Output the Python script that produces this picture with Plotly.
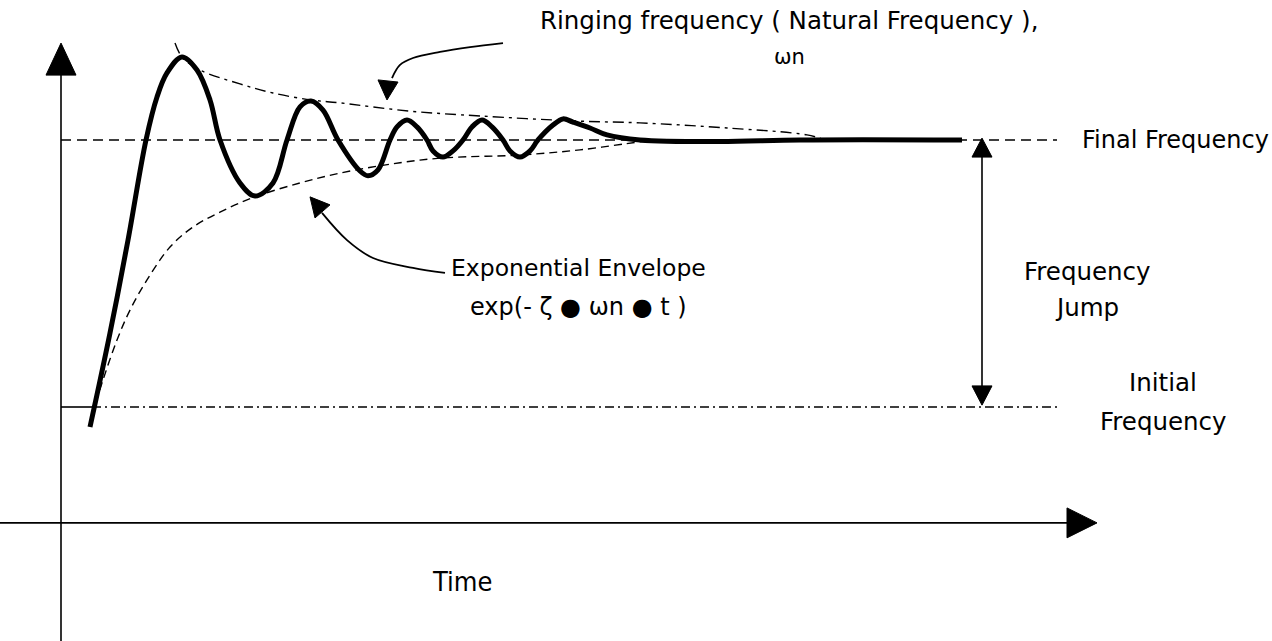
import plotly.graph_objects as go

# ---- Diagram data (time in arbitrary units, frequency normalised: initial=0, final=1) ----
resp_t = [0.29, 0.49, 0.67, 0.85, 0.96, 1.06, 1.21, 1.36, 1.49, 1.59, 1.79, 1.94, 2.12, 2.26,
          2.39, 2.50, 2.62, 2.77, 2.99, 3.07, 3.17, 3.29, 3.36, 3.46, 3.56, 3.66, 3.72, 3.82, 3.92,
          4.02, 4.11, 4.21, 4.31, 4.42, 4.49, 4.59, 4.69, 4.77, 4.92, 5.02, 5.12, 5.29, 5.46,
          5.79, 6.59, 7.39, 9.01]
resp_f = [-0.075, 0.277, 0.625, 1.0, 1.161, 1.251, 1.311, 1.262, 1.150, 1.0, 0.839, 0.790, 0.839, 1.0,
          1.124, 1.146, 1.112, 1.0, 0.884, 0.866, 0.888, 1.0, 1.049, 1.075, 1.049, 1.0, 0.959, 0.936, 0.959,
          1.0, 1.049, 1.075, 1.049, 1.0, 0.959, 0.936, 0.959, 1.0, 1.056, 1.079, 1.067, 1.045, 1.019,
          1.0, 0.994, 1.0, 1.0]

upper_t = [1.14, 1.21, 1.39, 1.79, 2.12, 2.50, 2.79, 3.49, 4.19, 5.16, 5.79, 6.66, 7.46, 7.64]
upper_f = [1.363, 1.311, 1.262, 1.210, 1.176, 1.150, 1.139, 1.108, 1.090, 1.071, 1.064, 1.045, 1.019, 1.0]

lower_t = [0.31, 0.42, 0.56, 0.69, 0.86, 1.09, 1.32, 1.59, 1.94, 2.39, 2.79, 3.39, 3.83, 4.60, 5.19, 5.79, 5.99]
lower_f = [-0.030, 0.101, 0.251, 0.363, 0.476, 0.599, 0.674, 0.730, 0.787, 0.839, 0.876, 0.915, 0.933, 0.944, 0.963, 0.993, 1.0]

initial_freq = 0.0
final_freq = 1.0
t_end_levels = 9.97
t_jump = 9.21
time_axis_f = -0.434

ring_arrow_t = [4.42, 4.09, 3.79, 3.52, 3.39, 3.31]
ring_arrow_f = [1.363, 1.348, 1.330, 1.307, 1.281, 1.232]
ring_head_t = [3.17, 3.26, 3.37, 3.17]
ring_head_f = [1.225, 1.150, 1.217, 1.225]

exp_arrow_t = [3.84, 3.52, 3.12, 2.86, 2.61]
exp_arrow_f = [0.502, 0.521, 0.558, 0.625, 0.727]
exp_head_t = [2.54, 2.49, 2.69, 2.54]
exp_head_f = [0.708, 0.787, 0.757, 0.708]

X_RANGE = [-0.61, 12.11]
Y_RANGE = [-0.8764, 1.5243]

FONT = "DejaVu Sans"
BLACK = "black"

fig = go.Figure()

def line(x, y, width=1.5, dash="solid", shape="linear", smoothing=1.0):
    fig.add_trace(go.Scatter(x=x, y=y, mode="lines", hoverinfo="skip", showlegend=False,
                             line=dict(color=BLACK, width=width, dash=dash, shape=shape, smoothing=smoothing)))

def tri(x, y):
    fig.add_trace(go.Scatter(x=x, y=y, mode="lines", fill="toself", fillcolor=BLACK,
                             hoverinfo="skip", showlegend=False, line=dict(color=BLACK, width=1)))

# axes
line([0, 0], [1.243, Y_RANGE[0]], width=1.6)
tri([-0.15, 0, 0.15, -0.15], [1.243, 1.363, 1.243, 1.243])
line([X_RANGE[0], 10.06], [time_axis_f, time_axis_f], width=1.6)
tri([10.06, 10.36, 10.06, 10.06], [time_axis_f + 0.056, time_axis_f, time_axis_f - 0.056, time_axis_f + 0.056])

# level lines
line([0, t_end_levels - 0.01], [final_freq, final_freq], width=1.4, dash="10px,6px")
line([0, 0.31], [initial_freq, initial_freq], width=1.6)
line([0.31, t_end_levels], [initial_freq, initial_freq], width=1.4, dash="9px,4px,2px,4px")

# envelopes
line(upper_t, upper_f, width=1.4, dash="11px,5px,3px,5px", shape="spline")
line(lower_t, lower_f, width=1.4, dash="8px,5px", shape="spline")

# response
line(resp_t, resp_f, width=5, shape="spline", smoothing=1.0)

# pointer arrows
line(ring_arrow_t, ring_arrow_f, width=1.8, shape="spline")
tri(ring_head_t, ring_head_f)
line(exp_arrow_t, exp_arrow_f, width=1.8, shape="spline")
tri(exp_head_t, exp_head_f)

# frequency jump arrow
line([t_jump, t_jump], [0.079, 0.936], width=1.6)
tri([t_jump - 0.1, t_jump, t_jump + 0.1, t_jump - 0.1], [0.936, 1.007, 0.936, 0.936])
tri([t_jump - 0.1, t_jump, t_jump + 0.1, t_jump - 0.1], [0.079, 0.007, 0.079, 0.079])

def text(x, y, s, size=23, xanchor="center", family=FONT):
    fig.add_annotation(x=x, y=y, text=s, showarrow=False, xanchor=xanchor, yanchor="middle",
                       font=dict(family=family, size=size, color=BLACK))

text(4.77, 1.449, "Ringing frequency ( Natural Frequency ),", size=24.5, xanchor="left")
text(7.28, 1.311, "ωn", size=21)
text(10.19, 1.0, "Final Frequency", size=24, xanchor="left")
text(3.88, 0.521, "Exponential Envelope", size=23.5, xanchor="left")
text(5.17, 0.375, "exp(- ζ ● ωn ● t )", size=24)
text(10.26, 0.509, "Frequency", size=24.5)
text(10.26, 0.371, "Jump", size=24.5)
text(11.02, 0.090, "Initial", size=24.5)
text(11.02, -0.056, "Frequency", size=24.5)
text(4.01, -0.652, "Time", size=27, family="Liberation Sans Narrow, DejaVu Sans Condensed, Liberation Sans")

fig.update_layout(
    width=1272, height=641,
    margin=dict(l=0, r=0, t=0, b=0),
    plot_bgcolor="white", paper_bgcolor="white",
    xaxis=dict(range=X_RANGE, visible=False, fixedrange=True),
    yaxis=dict(range=Y_RANGE, visible=False, fixedrange=True),
    showlegend=False,
)

fig.write_html("out.html", config={"displayModeBar": False},
               post_script="document.body.style.margin='0';document.body.style.overflow='hidden';")
